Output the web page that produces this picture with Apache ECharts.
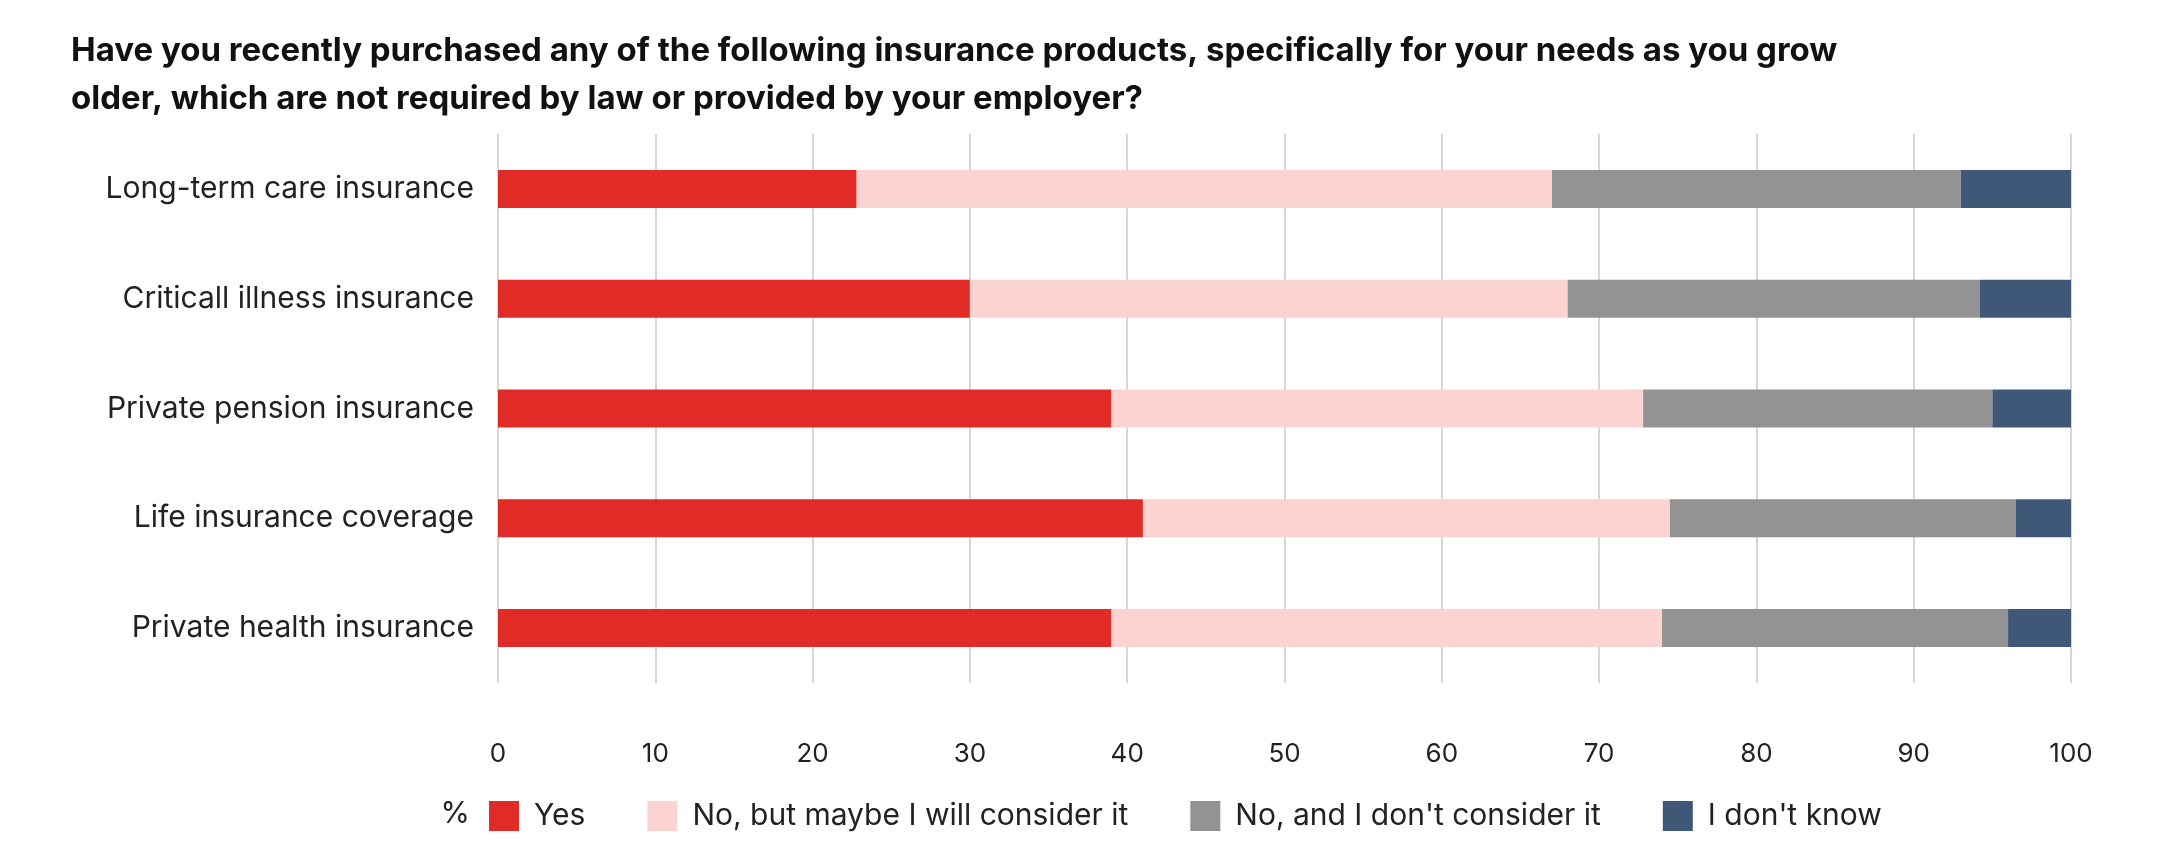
<!DOCTYPE html>
<html><head><meta charset="utf-8">
<script src="https://cdn.jsdelivr.net/npm/echarts@6/dist/echarts.min.js"></script>
<style>html,body{margin:0;background:#fff}#c{width:2163px;height:864px}</style>
</head><body><div id="c"></div>
<script>
const categories = ["Long-term care insurance","Criticall illness insurance","Private pension insurance","Life insurance coverage","Private health insurance"];
const seriesNames = ["Yes","No, but maybe I will consider it","No, and I don't consider it","I don't know"];
const yes = [22.8,30,39,41,39];
const maybe = [44.2,38,33.8,33.5,35];
const noConsider = [26,26.2,22.2,22,22];
const dontKnow = [7,5.8,5,3.5,4];
const colors = ["#e02b27","#fbd4d2","#939393","#3f5877"];
const values = [yes,maybe,noConsider,dontKnow];
const chart = echarts.init(document.getElementById('c'));
chart.setOption({
  textStyle:{fontFamily:'Inter'},
  title:{text:"Have you recently purchased any of the following insurance products, specifically for your needs as you grow\nolder, which are not required by law or provided by your employer?",
    left:66,top:22,textStyle:{fontFamily:'Inter',fontSize:33,fontWeight:'bold',color:'#111',lineHeight:48}},
  grid:{left:498,right:92,top:134,bottom:181},
  legend:{bottom:28,left:484,itemWidth:30,itemHeight:30,itemGap:62,icon:'rect',
    textStyle:{fontSize:30,color:'#222',padding:[0,0,0,10]},data:seriesNames},
  xAxis:{type:'value',min:0,max:100,interval:10,
    axisLabel:{fontSize:26,color:'#222',margin:58},
    splitLine:{lineStyle:{color:'#c8c8c8',width:1.5}},axisLine:{show:false},axisTick:{show:false},
    name:'%',nameLocation:'start',nameGap:28,nameTextStyle:{fontSize:30,color:'#222',padding:[116,0,0,0],verticalAlign:'top'}},
  yAxis:{type:'category',data:categories,inverse:true,axisLine:{show:false},axisTick:{show:false},
    axisLabel:{fontSize:30,color:'#222',margin:24}},
  series:values.map((v,i)=>({name:seriesNames[i],type:'bar',stack:'a',data:v,barWidth:38,
    itemStyle:{color:colors[i]},emphasis:{disabled:true}}))
});
</script></body></html>
